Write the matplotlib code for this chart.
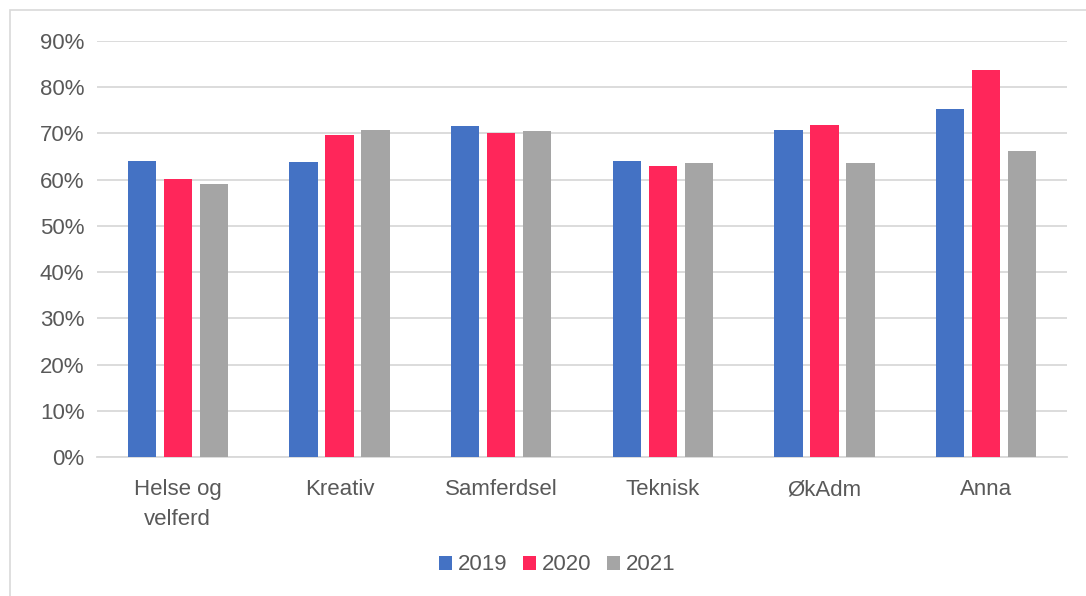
import matplotlib.pyplot as plt
import numpy as np
from matplotlib.patches import Rectangle
from matplotlib.ticker import PercentFormatter

categories = ['Helse og\nvelferd', 'Kreativ', 'Samferdsel', 'Teknisk', 'ØkAdm', 'Anna']
years = ['2019', '2020', '2021']
v2019 = [64.0, 63.9, 71.6, 64.0, 70.7, 75.3]
v2020 = [60.1, 69.6, 70.0, 62.9, 71.9, 83.7]
v2021 = [59.1, 70.7, 70.5, 63.5, 63.5, 66.2]
colors = ['#4472C4', '#FF265A', '#A5A5A5']

plt.rcParams['font.family'] = ['Liberation Sans', 'DejaVu Sans']

fig = plt.figure(figsize=(10.86, 5.96), dpi=100)
ax = fig.add_axes([97/1086, 1-457/596, (1067-97)/1086, (457-41)/596])

x = np.arange(len(categories))
w = 0.175
step = 0.222
for i, (vals, yr) in enumerate(zip([v2019, v2020, v2021], years)):
    ax.bar(x + (i-1)*step, vals, w, color=colors[i], label=yr, zorder=3)

ax.set_xlim(-0.5, len(categories)-0.5)
ax.set_ylim(0, 90)
ax.set_yticks(range(0, 91, 10))
ax.yaxis.set_major_formatter(PercentFormatter(decimals=0))
ax.grid(axis='y', color='#D9D9D9', linewidth=1.3, zorder=0)
for s in ['top', 'right', 'left']:
    ax.spines[s].set_visible(False)
ax.spines['bottom'].set_color('#D9D9D9')
ax.spines['bottom'].set_linewidth(1.3)
ax.tick_params(axis='both', length=0, labelsize=16, labelcolor='#595959')
ax.tick_params(axis='y', pad=9)
ax.tick_params(axis='x', pad=16)
ax.set_xticks(x)
ax.set_xticklabels(categories, linespacing=1.55)

leg = fig.legend(loc='center', bbox_to_anchor=(557/1086, 1-565/596), ncol=3, frameon=False,
                 fontsize=16, handlelength=0.6, handleheight=0.6, handletextpad=0.25,
                 columnspacing=0.7, labelcolor='#595959')

fig.patches.append(Rectangle((10/1086, -0.1), 1.2, 1-10/596+0.1, transform=fig.transFigure,
                             fill=False, edgecolor='#D9D9D9', linewidth=1.2))

fig.savefig('out.png', dpi=100)
